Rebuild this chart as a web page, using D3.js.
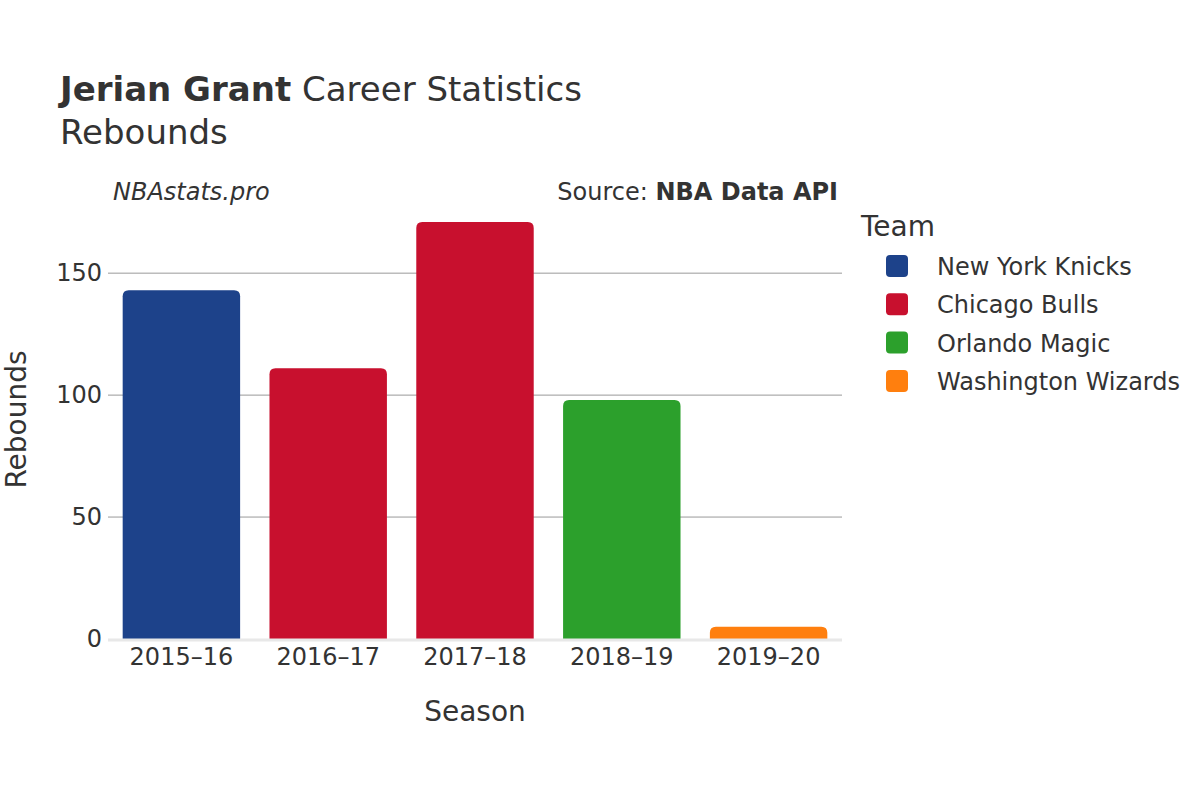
<!DOCTYPE html>
<html lang="en">
<head>
    <meta charset="UTF-8">
    <title>Jerian Grant Career Statistics - Rebounds</title>
    <script src="https://d3js.org/d3.v7.min.js"></script>
    <style>
        body {
            margin: 0;
            font-family: "DejaVu Sans", Verdana, sans-serif;
            background: #fff;
        }
        text { fill: #333; }
    </style>
</head>
<body>
    <div id="chart"></div>

    <script>
        // data
        const seasons = ["2015–16", "2016–17", "2017–18", "2018–19", "2019–20"];
        const rebounds = [143, 111, 171, 98, 5];
        const seasonTeams = ["New York Knicks", "Chicago Bulls", "Chicago Bulls", "Orlando Magic", "Washington Wizards"];
        const teams = ["New York Knicks", "Chicago Bulls", "Orlando Magic", "Washington Wizards"];
        const teamColors = ["#1d428a", "#c8102e", "#2ca02c", "#ff7f0e"];
        const yTicks = [0, 50, 100, 150];

        const W = 1200, H = 800;
        const plot = {left: 108, right: 842, top: 200, bottom: 639};

        const svg = d3.select("#chart")
            .append("svg")
            .attr("width", W)
            .attr("height", H);

        const x = d3.scaleBand()
            .domain(seasons)
            .range([plot.left, plot.right])
            .paddingInner(0.2)
            .paddingOuter(0.1);

        const y = d3.scaleLinear()
            .domain([0, 180])
            .range([plot.bottom, plot.top]);

        const color = d3.scaleOrdinal().domain(teams).range(teamColors);

        // gridlines
        svg.append("g")
            .selectAll("line")
            .data(yTicks.filter(d => d > 0))
            .join("line")
            .attr("x1", plot.left)
            .attr("x2", plot.right)
            .attr("y1", d => y(d))
            .attr("y2", d => y(d))
            .attr("stroke", "#999")
            .attr("stroke-width", 1);

        // y axis
        const yAxis = svg.append("g")
            .attr("transform", `translate(${plot.left},0)`)
            .call(d3.axisLeft(y).tickValues(yTicks).tickSize(0).tickPadding(6));
        yAxis.select(".domain").remove();
        yAxis.selectAll("text")
            .style("font-size", "24px")
            .style("font-family", "DejaVu Sans, sans-serif")
            .attr("fill", "#333");

        // bars with rounded tops
        const r = 6;
        function barPath(x0, w, yTop, yBot) {
            const rr = Math.min(r, (yBot - yTop), w / 2);
            return `M${x0},${yBot}V${yTop + rr}Q${x0},${yTop} ${x0 + rr},${yTop}` +
                `H${x0 + w - rr}Q${x0 + w},${yTop} ${x0 + w},${yTop + rr}V${yBot}Z`;
        }

        svg.append("g")
            .selectAll("path")
            .data(seasons.map((s, i) => ({season: s, value: rebounds[i], team: seasonTeams[i]})))
            .join("path")
            .attr("d", d => barPath(x(d.season), x.bandwidth(), y(d.value), y(0)))
            .attr("fill", d => color(d.team));

        // zero line
        svg.append("line")
            .attr("x1", plot.left)
            .attr("x2", plot.right)
            .attr("y1", y(0) + 1)
            .attr("y2", y(0) + 1)
            .attr("stroke", "#e8e8e8")
            .attr("stroke-width", 3);

        // x axis
        const xAxis = svg.append("g")
            .attr("transform", `translate(0,${plot.bottom})`)
            .call(d3.axisBottom(x).tickSize(0).tickPadding(9));
        xAxis.select(".domain").remove();
        xAxis.selectAll("text")
            .style("font-size", "24px")
            .style("font-family", "DejaVu Sans, sans-serif")
            .attr("fill", "#333");

        // axis titles
        svg.append("text")
            .attr("x", (plot.left + plot.right) / 2)
            .attr("y", 721)
            .attr("text-anchor", "middle")
            .style("font-size", "28px")
            .text("Season");

        svg.append("text")
            .attr("transform", `translate(26,${(plot.top + plot.bottom) / 2}) rotate(-90)`)
            .attr("text-anchor", "middle")
            .style("font-size", "28px")
            .text("Rebounds");

        // title
        const title = svg.append("text")
            .attr("x", 60)
            .attr("y", 101)
            .style("font-size", "34px");
        title.append("tspan").style("font-weight", "bold").text("Jerian Grant");
        title.append("tspan").text(" Career Statistics");

        svg.append("text")
            .attr("x", 60)
            .attr("y", 144)
            .style("font-size", "34px")
            .text("Rebounds");

        svg.append("text")
            .attr("x", 113)
            .attr("y", 200)
            .style("font-size", "24px")
            .style("font-style", "italic")
            .text("NBAstats.pro");

        const src = svg.append("text")
            .attr("x", 838)
            .attr("y", 200)
            .attr("text-anchor", "end")
            .style("font-size", "24px");
        src.append("tspan").text("Source: ");
        src.append("tspan").style("font-weight", "bold").text("NBA Data API");

        // legend
        const legend = svg.append("g").attr("transform", "translate(861,0)");
        legend.append("text")
            .attr("x", 0)
            .attr("y", 236)
            .style("font-size", "28px")
            .text("Team");

        const item = legend.selectAll("g.item")
            .data(teams)
            .join("g")
            .attr("class", "item")
            .attr("transform", (d, i) => `translate(0,${266 + i * 38.3})`);

        item.append("rect")
            .attr("x", 25)
            .attr("y", -11)
            .attr("width", 22)
            .attr("height", 22)
            .attr("rx", 4)
            .attr("fill", d => color(d));

        item.append("text")
            .attr("x", 76)
            .attr("y", 9)
            .style("font-size", "24px")
            .text(d => d);
    </script>
</body>
</html>
